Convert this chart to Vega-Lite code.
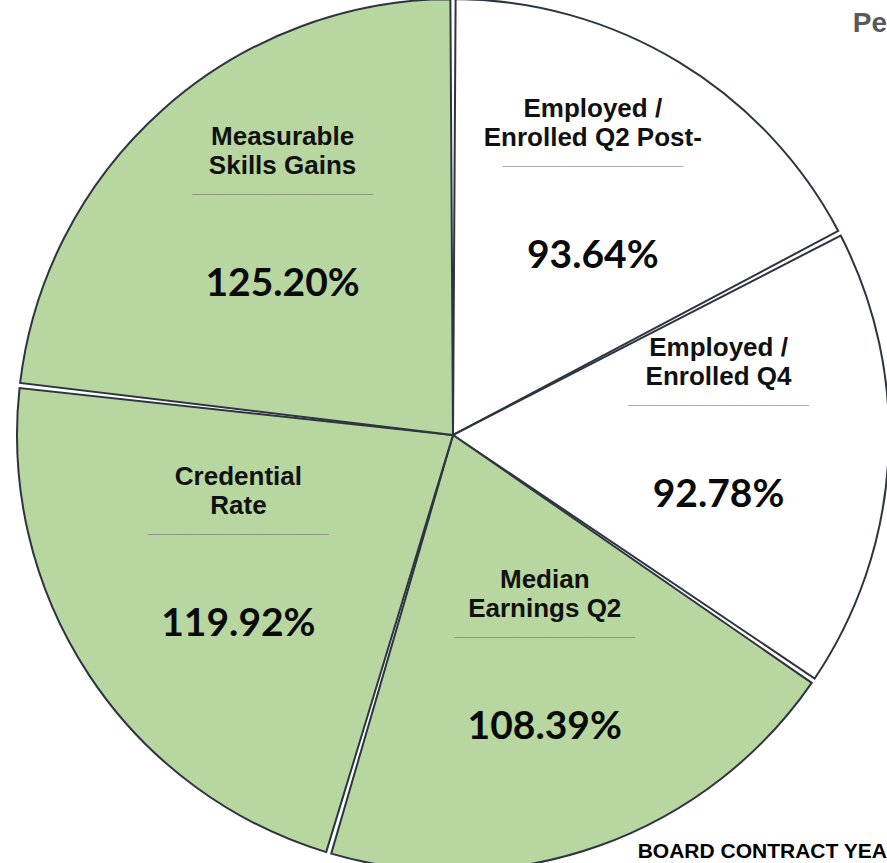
{
  "$schema": "https://vega.github.io/schema/vega-lite/v6.json",
  "width": 868,
  "height": 856,
  "autosize": {"type": "none"},
  "padding": {"left": 19, "top": 7, "right": 0, "bottom": 0},
  "background": "white",
  "title": {
    "text": "Pe",
    "subtitle": "BOARD CONTRACT YEA",
    "anchor": "end",
    "frame": "group",
    "orient": "top",
    "offset": 0,
    "dy": 867,
    "font": "Liberation Sans",
    "fontSize": 28,
    "fontWeight": "bold",
    "color": "#595959",
    "subtitleFont": "Liberation Sans",
    "subtitleFontSize": 21,
    "subtitleFontWeight": "bold",
    "subtitleColor": "#000000",
    "subtitlePadding": 803
  },
  "data": {
    "values": [
      {"order": 1, "label": "Employed /\nEnrolled Q2 Post-", "rate": 0.9364, "target": "Not met"},
      {"order": 2, "label": "Employed /\nEnrolled Q4", "rate": 0.9278, "target": "Not met"},
      {"order": 3, "label": "Median\nEarnings Q2", "rate": 1.0839, "target": "Met"},
      {"order": 4, "label": "Credential\nRate", "rate": 1.1992, "target": "Met"},
      {"order": 5, "label": "Measurable\nSkills Gains", "rate": 1.2520, "target": "Met"}
    ]
  },
  "encoding": {
    "theta": {"field": "rate", "type": "quantitative", "stack": true},
    "order": {"field": "order", "type": "quantitative"}
  },
  "layer": [
    {
      "mark": {"type": "arc", "radius": 436, "padAngle": 0.012, "stroke": "#2e3440", "strokeWidth": 2},
      "encoding": {
        "color": {
          "field": "target",
          "type": "nominal",
          "scale": {"domain": ["Met", "Not met"], "range": ["#b8d7a0", "#ffffff"]},
          "legend": null
        }
      }
    },
    {
      "mark": {"type": "text", "radius": 262, "dx": 4, "dy": -102, "font": "Liberation Sans", "fontSize": 26, "fontWeight": "bold", "lineBreak": "\n", "lineHeight": 29, "baseline": "middle", "align": "center", "color": "#111111"},
      "encoding": {"text": {"field": "label", "type": "nominal"}}
    },
    {
      "mark": {"type": "text", "radius": 262, "dx": 4, "dy": -46, "text": "_________________________", "font": "Liberation Sans", "fontSize": 13, "fontWeight": "bold", "baseline": "alphabetic", "align": "center", "color": "#6a6a6a"},
      "encoding": {}
    },
    {
      "mark": {"type": "text", "radius": 262, "dx": 4, "dy": 45, "font": "Lato", "fontSize": 39, "fontWeight": "bold", "baseline": "middle", "align": "center", "color": "#0a0a0a"},
      "encoding": {"text": {"field": "rate", "type": "quantitative", "format": ".2%"}}
    }
  ]
}
